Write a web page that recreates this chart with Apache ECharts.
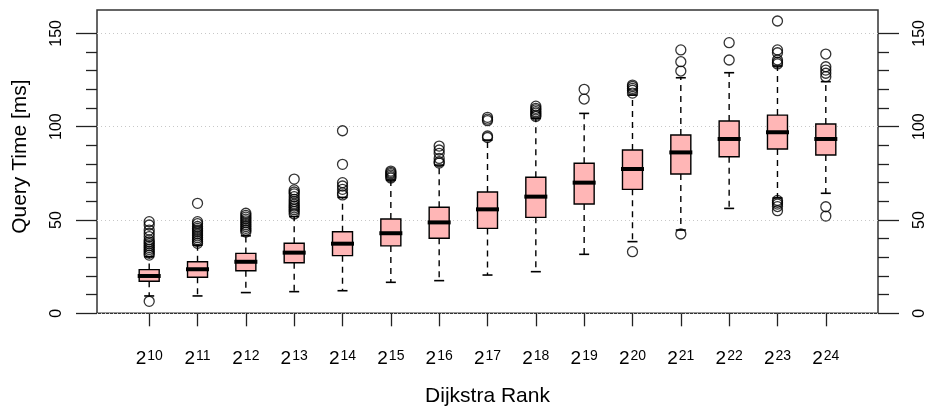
<!DOCTYPE html>
<html><head><meta charset="utf-8">
<script src="https://cdn.jsdelivr.net/npm/echarts@6/dist/echarts.min.js"></script>
<style>html,body{margin:0;padding:0;background:#fff}#c{width:926px;height:406px}</style>
</head><body><div id="c"></div>
<script>
// Dijkstra rank exponents (2^n)
const exponents = [10, 11, 12, 13, 14, 15, 16, 17, 18, 19, 20, 21, 22, 23, 24];
// Box statistics, query time in ms
const lowerWhisker = [9.3, 9.3, 11.1, 11.6, 12.1, 16.6, 17.5, 20.5, 22.3, 31.6, 38.4, 44.6, 56.2, 61.8, 64.3];
const q1 = [17.2, 19.3, 22.8, 27.1, 30.9, 36.1, 40.2, 45.5, 51.4, 58.6, 66.4, 74.6, 83.9, 88.0, 84.8];
const median = [20.0, 23.6, 27.6, 32.5, 37.3, 42.9, 48.7, 55.7, 62.5, 70.0, 77.3, 86.2, 93.4, 97.0, 93.4];
const q3 = [23.4, 27.6, 32.1, 37.5, 43.7, 50.5, 56.8, 65.0, 72.9, 80.4, 87.5, 95.5, 103.0, 106.2, 101.4];
const upperWhisker = [30.3, 36.5, 41.5, 51.8, 62.1, 71.4, 79.4, 92.8, 104.5, 107.1, 116.9, 126.2, 128.9, 132.5, 124.1];
const outliers = [
  [6.4, 31.2, 32.2, 33.2, 34.2, 35.2, 36.2, 37.2, 38.2, 39.3, 41.1, 42.9, 44.6, 47.3, 49.1],
  [37.5, 38.5, 39.5, 40.5, 41.5, 42.5, 43.5, 44.5, 45.5, 46.5, 48.0, 49.1, 58.9],
  [43.5, 44.5, 45.5, 46.5, 47.5, 48.5, 49.5, 50.5, 51.5, 52.5, 53.6],
  [53.2, 54.5, 55.5, 56.5, 57.5, 58.5, 59.8, 61.0, 62.5, 64.0, 65.0, 66.1, 71.9],
  [63.4, 64.5, 66.4, 68.2, 70.0, 79.8, 97.8],
  [72.5, 73.2, 74.0, 74.8, 75.5, 76.2],
  [80.5, 81.2, 83.0, 85.7, 87.5, 89.6],
  [94.2, 95.0, 103.2, 104.0, 105.0],
  [105.5, 106.2, 107.2, 108.0, 109.0, 109.8, 111.0],
  [114.8, 120.0],
  [33.0, 118.0, 119.5, 120.5, 121.5, 122.3],
  [42.5, 129.8, 134.8, 141.1],
  [135.7, 145.0],
  [55.0, 57.2, 58.5, 59.5, 60.5, 133.6, 134.5, 135.7, 139.6, 141.1, 156.6],
  [52.1, 57.1, 126.8, 128.6, 130.3, 132.1, 138.9]
];
const yMajorTicks = [0, 50, 100, 150];
const yMinorTicks = [10, 20, 30, 40, 60, 70, 80, 90, 110, 120, 130, 140];
const xTitle = 'Dijkstra Rank';
const yTitle = 'Query Time [ms]';

const FONT = '"Liberation Sans", Arial, Helvetica, sans-serif';
const catIdx = exponents.map((e, i) => i);
const boxData = exponents.map((e, i) => [i, lowerWhisker[i], q1[i], median[i], q3[i], upperWhisker[i]]);
const outlierData = [];
outliers.forEach((arr, i) => arr.forEach(v => outlierData.push([i, v])));

function renderBox(params, api) {
  const x = api.value(0);
  const cx = api.coord([x, api.value(3)])[0];
  const yLo = api.coord([x, api.value(1)])[1];
  const yA = api.coord([x, api.value(2)])[1];
  const yM = api.coord([x, api.value(3)])[1];
  const yB = api.coord([x, api.value(4)])[1];
  const yHi = api.coord([x, api.value(5)])[1];
  const bw = api.size([0.414, 0])[0];
  const sw = bw * 0.5;
  const dash = {stroke: '#000', lineWidth: 1.4, lineDash: [6, 5], fill: null};
  const solid = {stroke: '#000', lineWidth: 1.6, fill: null};
  return {
    type: 'group',
    children: [
      {type: 'line', shape: {x1: cx, y1: yB, x2: cx, y2: yHi}, style: dash},
      {type: 'line', shape: {x1: cx, y1: yA, x2: cx, y2: yLo}, style: dash},
      {type: 'line', shape: {x1: cx - sw / 2, y1: yHi, x2: cx + sw / 2, y2: yHi}, style: solid},
      {type: 'line', shape: {x1: cx - sw / 2, y1: yLo, x2: cx + sw / 2, y2: yLo}, style: solid},
      {type: 'rect', shape: {x: cx - bw / 2, y: yB, width: bw, height: yA - yB},
        style: {fill: '#FFB6B6', stroke: '#000', lineWidth: 1.4}},
      {type: 'line', shape: {x1: cx - bw / 2 - 1.5, y1: yM, x2: cx + bw / 2 + 1.5, y2: yM},
        style: {stroke: '#000', lineWidth: 4, fill: null}}
    ]
  };
}

const tickLine = {color: '#222', width: 1.3};
// kind: 'label' (labels/name/grid), 'major' ticks, 'minor' ticks
function yAxisDef(pos, kind) {
  const isLabel = kind === 'label';
  return {
    type: 'value', position: pos, min: 0, max: 162.5, interval: 50, offset: 0,
    axisLine: {show: false, onZero: false},
    axisTick: {show: !isLabel, inside: false, length: kind === 'major' ? 21 : 11, lineStyle: tickLine,
      customValues: kind === 'minor' ? yMinorTicks : yMajorTicks},
    axisLabel: {show: isLabel, customValues: yMajorTicks, rotate: 90, fontSize: 16, color: '#000',
      fontFamily: FONT, margin: pos === 'left' ? 32 : 34},
    splitLine: {show: isLabel && pos === 'left', lineStyle: {color: '#c8c8c8', width: 1, type: [1, 3]}},
    name: (isLabel && pos === 'left') ? yTitle : '',
    nameLocation: 'middle', nameGap: 66, nameRotate: 90,
    nameTextStyle: {fontSize: 21, color: '#000', fontFamily: FONT, padding: [0, 0, 0, 10]}
  };
}

const chart = echarts.init(document.getElementById('c'), null, {renderer: 'canvas'});
chart.setOption({
  animation: false,
  backgroundColor: '#fff',
  grid: {left: 97, right: 48, top: 10, bottom: 92.7, show: true, borderColor: '#333', borderWidth: 1.5,
    backgroundColor: 'transparent', containLabel: false, outerBoundsMode: 'none'},
  xAxis: {
    type: 'value', min: -1.08, max: 15.08,
    axisLine: {show: false, onZero: false},
    splitLine: {show: false},
    axisTick: {show: true, length: 13, lineStyle: tickLine, customValues: catIdx},
    axisLabel: {
      customValues: catIdx, margin: 36, color: '#000', fontFamily: FONT,
      formatter: v => '{b|2}{s|' + exponents[Math.round(v)] + '}',
      rich: {
        b: {fontSize: 19, lineHeight: 19, verticalAlign: 'bottom', fontFamily: FONT, color: '#000'},
        s: {fontSize: 14, lineHeight: 14, verticalAlign: 'top', padding: [0, 0, 18, 1], fontFamily: FONT, color: '#000'}
      }
    },
    name: xTitle, nameLocation: 'middle', nameGap: 70,
    nameTextStyle: {fontSize: 21, color: '#000', fontFamily: FONT}
  },
  yAxis: [
    yAxisDef('left', 'label'), yAxisDef('left', 'major'), yAxisDef('left', 'minor'),
    yAxisDef('right', 'label'), yAxisDef('right', 'major'), yAxisDef('right', 'minor')
  ],
  series: [
    {type: 'custom', renderItem: renderBox, data: boxData, clip: false, silent: true,
      encode: {x: 0, y: [1, 2, 3, 4, 5]}, z: 2},
    {type: 'scatter', data: outlierData, symbol: 'circle', symbolSize: 10, silent: true, z: 3,
      itemStyle: {color: 'rgba(0,0,0,0)', borderColor: '#000', borderWidth: 1.3}}
  ]
});
</script></body></html>
